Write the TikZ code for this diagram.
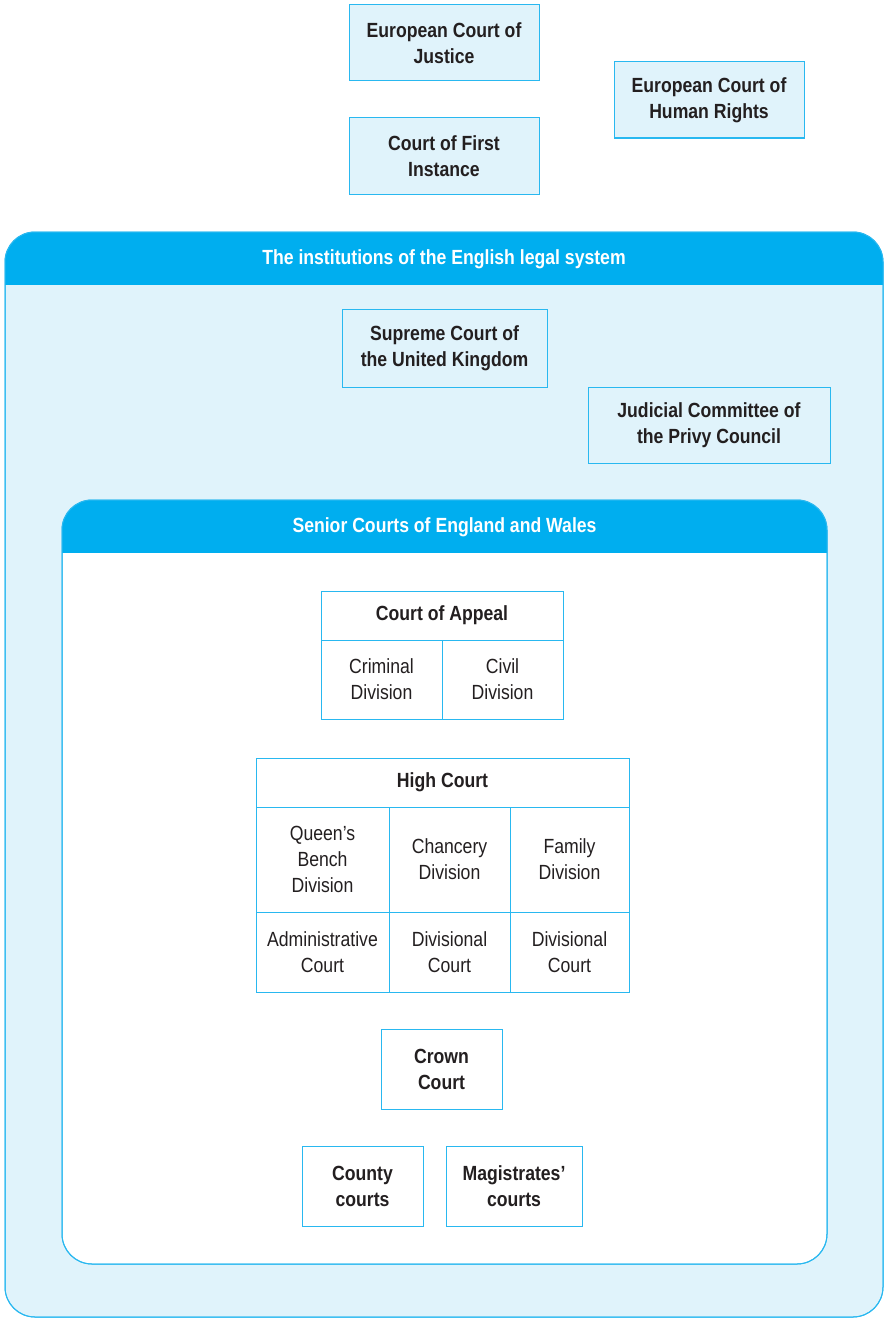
\documentclass[tikz,border=0pt]{standalone}
\usepackage{fontspec}
\setmainfont{Liberation Sans}[FakeStretch=0.86]
\usetikzlibrary{positioning}
\definecolor{headblue}{HTML}{00AEEF}
\definecolor{edgeblue}{HTML}{29B8F0}
\definecolor{paleblue}{HTML}{E0F3FB}
\definecolor{inkgrey}{HTML}{231F20}

\begin{document}
\begin{tikzpicture}[x=1pt,y=-1pt]
	\tikzstyle{euro}=[draw=edgeblue, fill=paleblue, line width=1pt, minimum width=190pt, minimum height=76pt, align=center, text=inkgrey, font=\bfseries\fontsize{20.5}{26}\selectfont]
	\tikzstyle{court}=[draw=edgeblue, fill=white, line width=1pt, outer sep=0pt, align=center, text=inkgrey, font=\bfseries\fontsize{20.5}{26}\selectfont]
	\tikzstyle{cell}=[draw=edgeblue, fill=white, line width=1pt, outer sep=0pt, inner sep=2pt, align=center, text=inkgrey, font=\fontsize{20.5}{26}\selectfont]
	\tikzstyle{cell_head}=[cell, font=\bfseries\fontsize{20.5}{26}\selectfont]
	\tikzstyle{frame_title}=[text=white, font=\bfseries\fontsize{20.5}{26}\selectfont]
	
	\useasboundingbox (0,0) rectangle (885,1319);
	
	% outer frame
	\filldraw[draw=edgeblue, fill=paleblue, line width=1pt, rounded corners=30pt] (5,232) rectangle (883,1317);
	\begin{scope}
		\clip[rounded corners=30pt] (5,232) rectangle (883,1317);
		\fill[headblue] (5,232) rectangle (883,285);
	\end{scope}
	\draw[edgeblue, line width=1pt, rounded corners=30pt] (5,232) rectangle (883,1317);
	\node[frame_title] (legal) at (444,259) {The institutions of the English legal system};
	
	% inner frame
	\filldraw[draw=edgeblue, fill=white, line width=1pt, rounded corners=30pt] (62,500) rectangle (827,1264);
	\begin{scope}
		\clip[rounded corners=30pt] (62,500) rectangle (827,1264);
		\fill[headblue] (62,500) rectangle (827,553);
	\end{scope}
	\draw[edgeblue, line width=1pt, rounded corners=30pt] (62,500) rectangle (827,1264);
	\node[frame_title] (senior) at (444.5,527) {Senior Courts of England and Wales};
	
	\node[euro] (ecj) at (444,43) {European Court of\\Justice};
	\node[euro] (cfi) at (444,156) {Court of First\\Instance};
	\node[euro] (echr) at (709,100) {European Court of\\Human Rights};
	
	\node[euro, minimum width=205pt, minimum height=78pt] (supreme) at (444.5,348) {Supreme Court of\\the United Kingdom};
	\node[euro, minimum width=242pt] (privy) at (709,425) {Judicial Committee of\\the Privy Council};
	
	\node[cell_head, minimum width=242pt, minimum height=49pt] (appeal) at (442,615.5) {Court of Appeal};
	\node[cell, minimum width=121pt, minimum height=79pt, anchor=north west] (crim) at (appeal.south west) {Criminal\\Division};
	\node[cell, minimum width=121pt, minimum height=79pt, anchor=north east] (civil) at (appeal.south east) {Civil\\Division};
	
	\node[cell_head, minimum width=373pt, minimum height=49pt] (high) at (442.5,782.5) {High Court};
	\node[cell, minimum width=133pt, minimum height=105pt, anchor=north west] (qbd) at (high.south west) {Queen’s\\Bench\\Division};
	\node[cell, minimum width=121pt, minimum height=105pt, right=0pt of qbd] (chan) {Chancery\\Division};
	\node[cell, minimum width=119pt, minimum height=105pt, right=0pt of chan] (fam) {Family\\Division};
	\node[cell, minimum width=133pt, minimum height=80pt, below=0pt of qbd] (admin) {Administrative\\Court};
	\node[cell, minimum width=121pt, minimum height=80pt, below=0pt of chan] (chandiv) {Divisional\\Court};
	\node[cell, minimum width=119pt, minimum height=80pt, below=0pt of fam] (famdiv) {Divisional\\Court};
	
	\node[court, minimum width=121pt, minimum height=80pt] (crown) at (441.5,1069) {Crown\\Court};
	\node[court, minimum width=121pt, minimum height=80pt] (county) at (362.5,1186) {County\\courts};
	\node[court, minimum width=136pt, minimum height=80pt] (magis) at (514,1186) {Magistrates’\\courts};
\end{tikzpicture}
\end{document}
